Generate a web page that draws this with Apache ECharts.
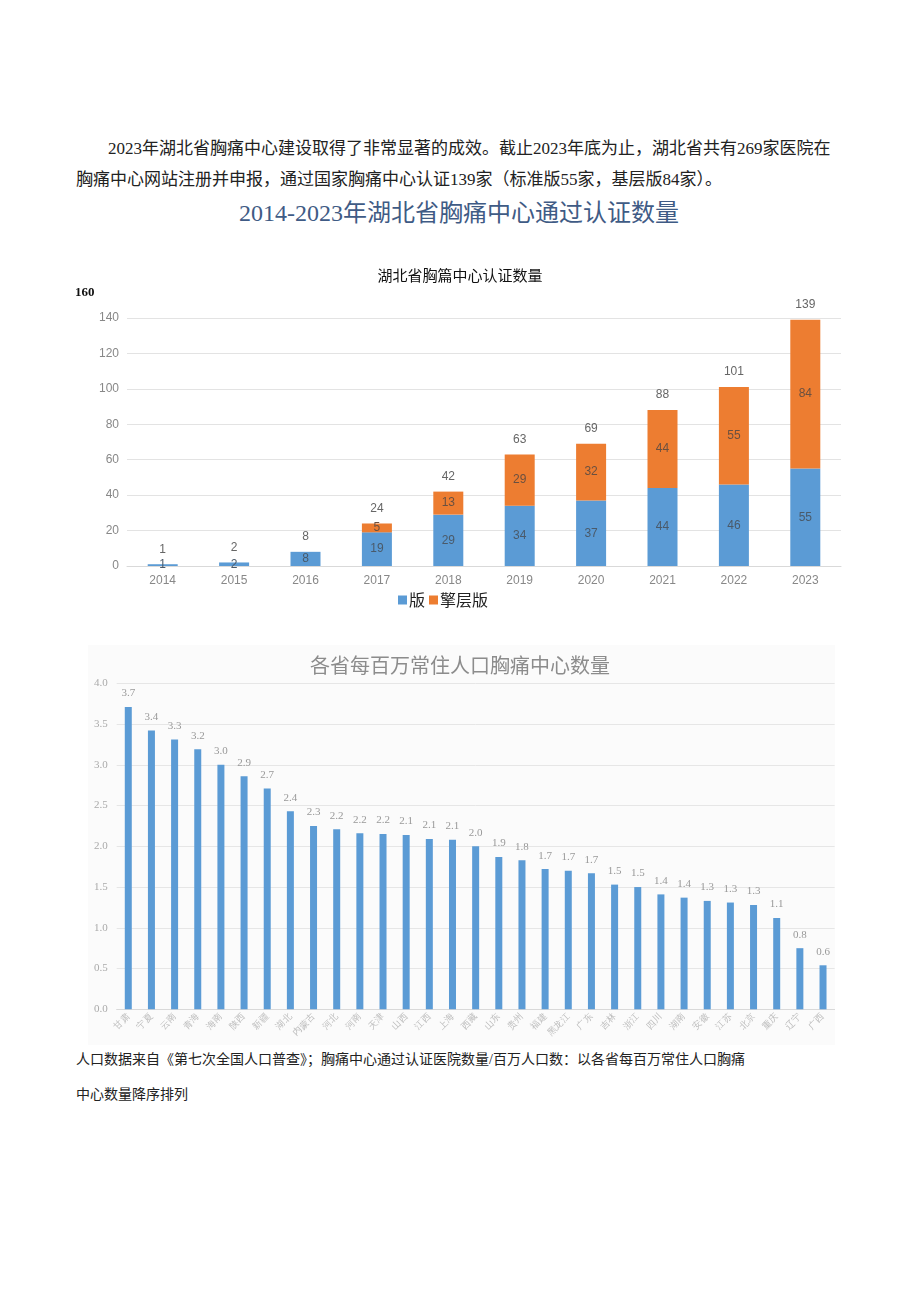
<!DOCTYPE html>
<html>
<head>
<meta charset="utf-8">
<script src="https://cdn.jsdelivr.net/npm/echarts@6/dist/echarts.min.js"></script>
<style>
  html, body { margin:0; padding:0; background:#fff; width:920px; height:1301px; overflow:hidden; }
  .t { position:absolute; white-space:nowrap; line-height:1; font-family:"Liberation Serif","Noto Sans CJK SC",serif; }
  #c1 { position:absolute; left:0; top:255px; width:920px; height:360px; }
  #c2 { position:absolute; left:0; top:640px; width:920px; height:410px; }
</style>
</head>
<body>
<div class="t" style="left:108px;top:140px;font-size:17px;color:#222;">2023年湖北省胸痛中心建设取得了非常显著的成效。截止2023年底为止，湖北省共有269家医院在</div>
<div class="t" style="left:76px;top:171px;font-size:17px;color:#222;">胸痛中心网站注册并申报，通过国家胸痛中心认证139家（标准版55家，基层版84家）。</div>
<div class="t" style="left:0;width:918px;text-align:center;top:201px;font-size:24px;color:#3f5b85;">2014-2023年湖北省胸痛中心通过认证数量</div>
<div id="c1"></div>
<div id="c2"></div>
<div class="t" style="left:76px;top:1053px;font-size:14px;color:#222;">人口数据来自《第七次全国人口普查》；胸痛中心通过认证医院数量/百万人口数：以各省每百万常住人口胸痛</div>
<div class="t" style="left:76px;top:1088px;font-size:14px;color:#222;">中心数量降序排列</div>
<script>
// ---- Chart 1 data ----
const years = ['2014','2015','2016','2017','2018','2019','2020','2021','2022','2023'];
const standardVals = [1, 2, 8, 19, 29, 34, 37, 44, 46, 55];
const basicVals = [0, 0, 0, 5, 13, 29, 32, 44, 55, 84];
const seriesNames = ['版', '擎层版'];
const yTicks1 = [0, 20, 40, 60, 80, 100, 120, 140];

// ---- Chart 2 data ----
const provinces = ['甘肃','宁夏','云南','青海','海南','陕西','新疆','湖北','内蒙古','河北','河南','天津','山西','江西','上海','西藏','山东','贵州','福建','黑龙江','广东','吉林','浙江','四川','湖南','安徽','江苏','北京','重庆','辽宁','广西'];
const perMillion = [3.71, 3.42, 3.31, 3.19, 3.00, 2.86, 2.71, 2.43, 2.25, 2.21, 2.16, 2.15, 2.14, 2.09, 2.08, 2.00, 1.87, 1.83, 1.72, 1.70, 1.67, 1.53, 1.50, 1.41, 1.37, 1.33, 1.31, 1.28, 1.12, 0.75, 0.54];
const perMillionLabels = ['3.7','3.4','3.3','3.2','3.0','2.9','2.7','2.4','2.3','2.2','2.2','2.2','2.1','2.1','2.1','2.0','1.9','1.8','1.7','1.7','1.7','1.5','1.5','1.4','1.4','1.3','1.3','1.3','1.1','0.8','0.6'];

const totals = standardVals.map((v, i) => v + basicVals[i]);

const c1 = echarts.init(document.getElementById('c1'));
c1.setOption({
  animation: false,
  title: {
    text: '湖北省胸篇中心认证数量', left: 'center', top: 8,
    textStyle: { fontSize: 15, fontWeight: 'normal', color: '#111', fontFamily: 'Noto Sans CJK SC' }
  },
  graphic: [{
    type: 'text', left: 75, top: 31,
    style: { text: '160', fontSize: 13, fontWeight: 'bold', fill: '#111', fontFamily: 'Liberation Serif' }
  }],
  legend: {
    data: seriesNames, left: 393, top: 332, itemWidth: 9, itemHeight: 9, itemGap: 4,
    icon: 'rect',
    textStyle: { fontSize: 16, color: '#222', fontFamily: 'Noto Sans CJK SC', padding: [0, 0, 0, -3] }
  },
  grid: { left: 127, right: 79, top: 63, bottom: 49 },
  xAxis: {
    type: 'category', data: years,
    axisLine: { lineStyle: { color: '#d9d9d9' } },
    axisTick: { show: false },
    axisLabel: { color: '#888', fontSize: 12, margin: 9 }
  },
  yAxis: {
    type: 'value', min: 0, max: yTicks1[yTicks1.length - 1], interval: 20,
    axisLine: { show: false }, axisTick: { show: false },
    axisLabel: { color: '#888', fontSize: 12, margin: 8 },
    splitLine: { lineStyle: { color: '#e3e3e3' } }
  },
  series: [
    {
      name: seriesNames[0], type: 'bar', stack: 's', data: standardVals, barWidth: 30,
      itemStyle: { color: '#5B9BD5' },
      label: { show: true, position: 'inside', color: '#4a5a6a', fontSize: 12 }
    },
    {
      name: seriesNames[1], type: 'bar', stack: 's', data: basicVals, barWidth: 30,
      itemStyle: { color: '#ED7D31' },
      label: { show: true, position: 'inside', color: '#6a5040', fontSize: 12,
        formatter: p => p.value ? String(p.value) : '' }
    },
    {
      name: 'total', type: 'bar', data: totals, barWidth: 30, barGap: '-100%', z: 0,
      itemStyle: { color: 'rgba(0,0,0,0)' },
      label: { show: true, position: 'top', distance: 9, color: '#666', fontSize: 12 },
      silent: true
    }
  ]
});

const c2 = echarts.init(document.getElementById('c2'));
c2.setOption({
  animation: false,
  graphic: [{
    type: 'rect', left: 88, top: 5, shape: { width: 747, height: 400 },
    style: { fill: '#fbfbfb' }, z: -10
  }],
  title: {
    text: '各省每百万常住人口胸痛中心数量', left: 'center', top: 10,
    textStyle: { fontSize: 20, fontWeight: 'normal', color: '#8c8c8c', fontFamily: 'Noto Sans CJK SC' }
  },
  grid: { left: 116.7, right: 85.4, top: 43.3, bottom: 40.7 },
  xAxis: {
    type: 'category', data: provinces,
    axisLine: { lineStyle: { color: '#d9d9d9' } },
    axisTick: { show: false },
    axisLabel: { color: '#bbb', fontSize: 9, rotate: 45, margin: 6, interval: 0 }
  },
  yAxis: {
    type: 'value', min: 0, max: 4, interval: 0.5,
    axisLine: { show: false }, axisTick: { show: false },
    axisLabel: { color: '#aaa', fontSize: 11, margin: 9, fontFamily: 'Liberation Serif',
      formatter: v => v.toFixed(1) },
    splitLine: { lineStyle: { color: '#e6e6e6' } }
  },
  series: [{
    type: 'bar', data: perMillion, barWidth: 7,
    itemStyle: { color: '#5B9BD5' },
    label: { show: true, position: 'top', distance: 8, color: '#999', fontSize: 11,
      fontFamily: 'Liberation Serif', formatter: p => perMillionLabels[p.dataIndex] }
  }]
});
</script>
</body>
</html>
